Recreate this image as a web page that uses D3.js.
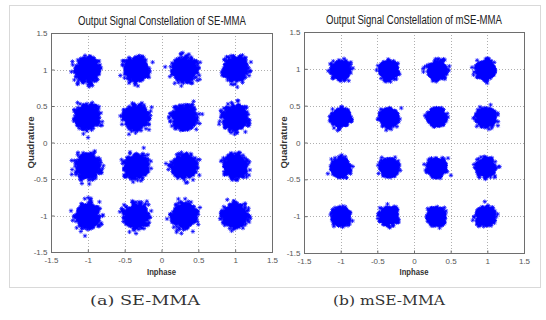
<!DOCTYPE html>
<html><head><meta charset="utf-8">
<script src="https://cdn.jsdelivr.net/npm/d3@7"></script>
<style>body{margin:0;background:#fff}</style>
</head><body><svg id="c" width="546" height="320"></svg>
<script>
// ---- data ----
const tickValues = [-1.5, -1, -0.5, 0, 0.5, 1, 1.5];
const tickLabels = ["-1.5", "-1", "-0.5", "0", "0.5", "1", "1.5"];
const panelTitles = ["Output Signal Constellation of SE-MMA", "Output Signal Constellation of mSE-MMA"];
const captions = ["(a)  SE-MMA", "(b)  mSE-MMA"];
const xLabel = "Inphase";
const yLabel = "Quadrature";
// cluster centres (inphase / quadrature) per panel
const iCentersA = [-1.0, -0.34, 0.31, 1.0];
const qCentersA = [1.0, 0.34, -0.33, -1.0];
const iCentersB = [-1.0, -0.34, 0.31, 0.98];
const qCentersB = [0.98, 0.34, -0.34, -1.0];
const spreadA = 0.07;
const spreadB = 0.05;
const pointsPerCluster = 800;

// ---- layout ----
const svg = d3.select("#c");
const panels = [
  {x0: 51, x1: 272, y0: 33, y1: 252, ic: iCentersA, qc: qCentersA, s: spreadA, title: panelTitles[0], cap: captions[0], tx: 162, ty: 25, tl: 168, capx: 145, capl: 110, qx: 31},
  {x0: 304, x1: 524, y0: 32, y1: 253, ic: iCentersB, qc: qCentersB, s: spreadB, title: panelTitles[1], cap: captions[1], tx: 414, ty: 24, tl: 176, capx: 389, capl: 112, qx: 284}
];

// outer light frame
svg.append("rect").attr("x", 9.5).attr("y", 5.5).attr("width", 531).attr("height", 282)
  .attr("fill", "none").attr("stroke", "#d9d9d9").attr("stroke-width", 1);

// deterministic noise generator (seeded) for the cloud rendering
function mulberry32(a) { return function() { a |= 0; a = a + 0x6D2B79F5 | 0; let t = Math.imul(a ^ a >>> 15, 1 | a); t = t + Math.imul(t ^ t >>> 7, 61 | t) ^ t; return ((t ^ t >>> 14) >>> 0) / 4294967296; }; }

const sans = "'Liberation Sans', Arial, sans-serif";

panels.forEach((p, pi) => {
  const x = d3.scaleLinear().domain([-1.5, 1.5]).range([p.x0, p.x1]);
  const y = d3.scaleLinear().domain([-1.5, 1.5]).range([p.y1, p.y0]);
  const g = svg.append("g");

  // grid
  const inner = tickValues.slice(1, -1);
  g.selectAll(".gx").data(inner).join("line")
    .attr("x1", d => Math.round(x(d)) + 0.5).attr("x2", d => Math.round(x(d)) + 0.5)
    .attr("y1", p.y0).attr("y2", p.y1)
    .attr("stroke", "#9a9a9a").attr("stroke-width", 0.8).attr("stroke-dasharray", "1,2");
  g.selectAll(".gy").data(inner).join("line")
    .attr("y1", d => Math.round(y(d)) + 0.5).attr("y2", d => Math.round(y(d)) + 0.5)
    .attr("x1", p.x0).attr("x2", p.x1)
    .attr("stroke", "#9a9a9a").attr("stroke-width", 0.8).attr("stroke-dasharray", "1,2");

  // points
  const rnd = mulberry32(1234 + pi * 777);
  const gauss = () => { let u = 0, v = 0; while (u === 0) u = rnd(); v = rnd(); return Math.sqrt(-2 * Math.log(u)) * Math.cos(2 * Math.PI * v); };
  const pts = [];
  p.qc.forEach(qv => p.ic.forEach(iv => {
    for (let k = 0; k < pointsPerCluster; k++) pts.push([iv + gauss() * p.s, qv + gauss() * p.s]);
  }));
  const r = 2.2, dd = 1.6;
  const star = `M${-r},0H${r}M0,${-r}V${r}M${-dd},${-dd}L${dd},${dd}M${-dd},${dd}L${dd},${-dd}`;
  g.append("g").selectAll("path").data(pts).join("path")
    .attr("d", star)
    .attr("transform", d => `translate(${x(d[0]).toFixed(2)},${y(d[1]).toFixed(2)})`)
    .attr("stroke", "#0000ff").attr("stroke-width", 0.75).attr("fill", "none");

  // axes box
  g.append("rect").attr("x", p.x0 + 0.5).attr("y", p.y0 + 0.5)
    .attr("width", p.x1 - p.x0).attr("height", p.y1 - p.y0)
    .attr("fill", "none").attr("stroke", "#6e6e6e").attr("stroke-width", 1);

  // axis ticks & labels via d3 axes
  const xAxis = d3.axisBottom(x).tickValues(tickValues).tickSize(-3).tickPadding(5)
    .tickFormat((d, i) => tickLabels[i]);
  const yAxis = d3.axisLeft(y).tickValues(tickValues).tickSize(-3).tickPadding(4)
    .tickFormat((d, i) => tickLabels[i]);
  const ax = g.append("g").attr("transform", `translate(0,${p.y1 + 0.5})`).call(xAxis);
  const ay = g.append("g").attr("transform", `translate(${p.x0 + 0.5},0)`).call(yAxis);
  [ax, ay].forEach(a => {
    a.select(".domain").remove();
    a.selectAll(".tick line").attr("stroke", "#6e6e6e");
    a.selectAll(".tick text").attr("fill", "#555").style("font-family", sans).style("font-size", "8px");
  });

  // title
  g.append("text").attr("x", p.tx).attr("y", p.ty).attr("text-anchor", "middle")
    .attr("textLength", p.tl).attr("lengthAdjust", "spacingAndGlyphs")
    .style("font-family", sans).style("font-size", "12px").attr("fill", "#222").text(p.title);
  // x label
  g.append("text").attr("x", (p.x0 + p.x1) / 2).attr("y", 275).attr("text-anchor", "middle")
    .attr("textLength", 29).attr("lengthAdjust", "spacingAndGlyphs")
    .style("font-family", sans).style("font-size", "9px").style("font-weight", "bold").attr("fill", "#333").text(xLabel);
  // y label
  g.append("text").attr("transform", `translate(${p.qx + 3},${(p.y0 + p.y1) / 2}) rotate(-90)`)
    .attr("text-anchor", "middle").attr("textLength", 52).attr("lengthAdjust", "spacingAndGlyphs")
    .style("font-family", sans).style("font-size", "9px").style("font-weight", "bold").attr("fill", "#333").text(yLabel);
  // caption
  svg.append("text").attr("x", p.capx).attr("y", 305).attr("text-anchor", "middle")
    .attr("textLength", p.capl).attr("lengthAdjust", "spacingAndGlyphs")
    .style("font-family", "'DejaVu Serif', 'Liberation Serif', serif").style("font-size", "13px")
    .attr("fill", "#333").text(p.cap);
});
</script></body></html>
